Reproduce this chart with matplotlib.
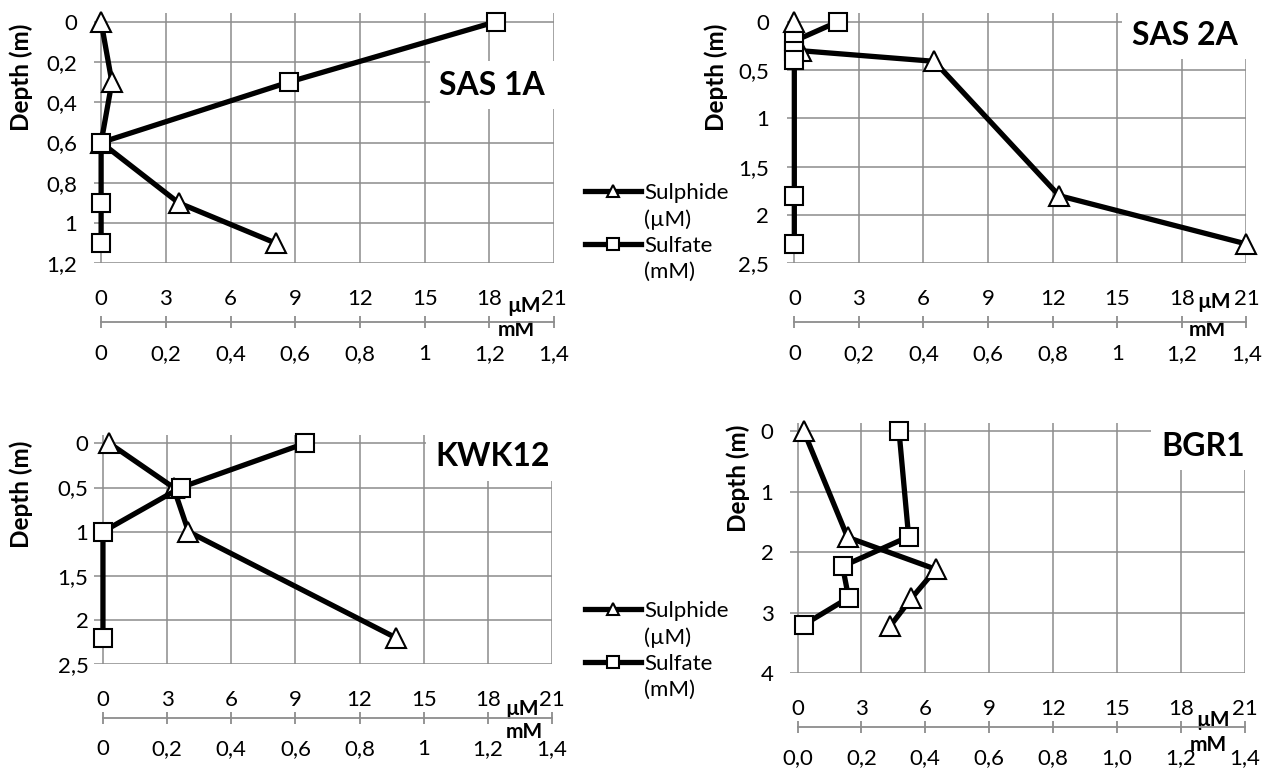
import matplotlib.pyplot as plt
from matplotlib.lines import Line2D

W, H = 1273, 775

plt.rcParams['font.family'] = ['Lato', 'DejaVu Sans']

# concentration axes: sulphide in µM (bottom), sulfate in mM (second axis)
um_ticks = [0, 3, 6, 9, 12, 15, 18, 21]
um_labels = ['0', '3', '6', '9', '12', '15', '18', '21']
mm_ticks = [0, 0.2, 0.4, 0.6, 0.8, 1.0, 1.2, 1.4]
mm_labels = ['0', '0,2', '0,4', '0,6', '0,8', '1', '1,2', '1,4']
mm_labels_bgr = ['0,0', '0,2', '0,4', '0,6', '0,8', '1,0', '1,2', '1,4']

# SAS 1A
sas1a_depth_ticks = [0, 0.2, 0.4, 0.6, 0.8, 1.0, 1.2]
sas1a_depth_labels = ['0', '0,2', '0,4', '0,6', '0,8', '1', '1,2']
sas1a_sulphide_depth = [0.0, 0.3, 0.6, 0.9, 1.1]
sas1a_sulphide = [0.0, 0.5, 0.0, 3.6, 8.1]
sas1a_sulfate_depth = [0.0, 0.3, 0.6, 0.9, 1.1]
sas1a_sulfate = [1.22, 0.58, 0.0, 0.0, 0.0]

# SAS 2A
sas2a_depth_ticks = [0, 0.5, 1.0, 1.5, 2.0, 2.5]
sas2a_depth_labels = ['0', '0,5', '1', '1,5', '2', '2,5']
sas2a_sulphide_depth = [0.0, 0.3, 0.41, 1.8, 2.3]
sas2a_sulphide = [0.0, 0.3, 6.5, 12.3, 21.0]
sas2a_sulfate_depth = [0.0, 0.2, 0.3, 0.4, 1.8, 2.3]
sas2a_sulfate = [0.135, 0.0, 0.0, 0.0, 0.0, 0.0]

# KWK12
kwk12_depth_ticks = [0, 0.5, 1.0, 1.5, 2.0, 2.5]
kwk12_depth_labels = ['0', '0,5', '1', '1,5', '2', '2,5']
kwk12_sulphide_depth = [0.0, 0.5, 1.0, 2.2]
kwk12_sulphide = [0.3, 3.3, 4.0, 13.7]
kwk12_sulfate_depth = [0.0, 0.5, 1.0, 2.2]
kwk12_sulfate = [0.63, 0.243, 0.0, 0.0]

# BGR1
bgr1_depth_ticks = [0, 1, 2, 3, 4]
bgr1_depth_labels = ['0', '1', '2', '3', '4']
bgr1_sulphide_depth = [0.0, 1.75, 2.28, 2.76, 3.22]
bgr1_sulphide = [0.3, 2.35, 6.5, 5.35, 4.35]
bgr1_sulfate_depth = [0.0, 1.74, 2.23, 2.75, 3.2]
bgr1_sulfate = [0.318, 0.348, 0.141, 0.16, 0.019]

GRID = '#8c8c8c'
FS = 16
LW = 3.8
PT = 0.72  # points per pixel at 100 dpi

fig = plt.figure(figsize=(W / 100, H / 100), dpi=100)


def px_rect(left, top, right, bottom):
    return [left / W, 1 - bottom / H, (right - left) / W, (bottom - top) / H]


def draw_panel(p):
    ax = fig.add_axes(px_rect(*p['box']))
    ax.set_xlim(p['xmin'], 21)
    ax.set_ylim(p['dmax'], p['dmin'])
    ax.set_xticks(um_ticks)
    ax.set_xticklabels(um_labels)
    ax.set_yticks(p['dticks'])
    ax.set_yticklabels(p['dlabels'])
    ax.grid(True, color=GRID, lw=1.1)
    ax.set_axisbelow(True)
    for s in ax.spines.values():
        s.set_visible(False)
    ax.tick_params(axis='x', length=0, pad=26 * PT, labelsize=FS)
    ax.tick_params(axis='y', length=0, pad=p['ypad'] * PT, labelsize=FS)

    h_sul, = ax.plot(p['sul'], p['sul_d'], color='black', lw=LW, marker='^',
                     ms=14, mfc='white', mec='black', mew=1.5, clip_on=False)

    ax2 = ax.twiny()
    ax2.set_xlim(p['xmin'] / 15, 21 / 15)
    h_sf, = ax2.plot(p['sf'], p['sf_d'], color='black', lw=LW, marker='s',
                     ms=13.5, mfc='white', mec='black', mew=1.5, clip_on=False)
    ax2.xaxis.set_ticks_position('bottom')
    for side in ('top', 'left', 'right'):
        ax2.spines[side].set_visible(False)
    ax2.spines['bottom'].set_position(('outward', p['drop'] * PT))
    ax2.spines['bottom'].set_bounds(0, 1.4)
    ax2.spines['bottom'].set_color(GRID)
    ax2.spines['bottom'].set_linewidth(1.3)
    ax2.set_xticks(mm_ticks)
    ax2.set_xticklabels(p['mmlabels'])
    ax2.tick_params(axis='x', direction='inout', length=9, width=1.3,
                    color=GRID, pad=11, labelsize=FS)

    ax.annotate('µM', xy=(p['um_lab'][0], 0), xycoords=('data', 'axes fraction'),
                xytext=(0, -p['um_lab'][1] * PT), textcoords='offset points',
                ha='center', va='center', fontsize=15, fontweight='bold')
    ax.annotate('mM', xy=(p['mm_lab'][0], 0), xycoords=('data', 'axes fraction'),
                xytext=(0, -p['mm_lab'][1] * PT), textcoords='offset points',
                ha='center', va='center', fontsize=15, fontweight='bold')

    ax.annotate(p['name'], xy=(1, 1), xycoords='axes fraction',
                xytext=(p['title_off'][0] * PT, -p['title_off'][1] * PT),
                textcoords='offset points', ha='right', va='center',
                fontsize=23, fontweight='bold', zorder=5,
                bbox=dict(boxstyle='square,pad=0.3', fc='white', ec='none'))

    fig.text(p['ylab'][0] / W, 1 - p['ylab'][1] / H, 'Depth (m)', rotation=90,
             ha='center', va='center', fontsize=17.5, fontweight='bold')
    return h_sul, h_sf


panels = [
    dict(name='SAS 1A', box=(94, 13.3, 554, 263.3), xmin=-0.33, dmin=-0.042, dmax=1.2,
         dticks=sas1a_depth_ticks, dlabels=sas1a_depth_labels,
         sul=sas1a_sulphide, sul_d=sas1a_sulphide_depth,
         sf=sas1a_sulfate, sf_d=sas1a_sulfate_depth, mmlabels=mm_labels,
         ypad=17, drop=59, um_lab=(19.6, 43), mm_lab=(19.25, 67),
         title_off=(-9, 72), ylab=(21, 77)),
    dict(name='SAS 2A', box=(787, 13.3, 1246.4, 263.3), xmin=-0.34, dmin=-0.087, dmax=2.5,
         dticks=sas2a_depth_ticks, dlabels=sas2a_depth_labels,
         sul=sas2a_sulphide, sul_d=sas2a_sulphide_depth,
         sf=sas2a_sulfate, sf_d=sas2a_sulfate_depth, mmlabels=mm_labels,
         ypad=18, drop=59, um_lab=(19.5, 39), mm_lab=(19.2, 67),
         title_off=(-9, 22), ylab=(716, 77)),
    dict(name='KWK12', box=(94.4, 435, 552, 664.3), xmin=-0.40, dmin=-0.094, dmax=2.5,
         dticks=kwk12_depth_ticks, dlabels=kwk12_depth_labels,
         sul=kwk12_sulphide, sul_d=kwk12_sulphide_depth,
         sf=kwk12_sulfate, sf_d=kwk12_sulfate_depth, mmlabels=mm_labels,
         ypad=6, drop=53.5, um_lab=(19.6, 45), mm_lab=(19.7, 68),
         title_off=(-2, 22), ylab=(21, 494)),
    dict(name='BGR1', box=(790.5, 423, 1244.5, 673.3), xmin=-0.33, dmin=-0.14, dmax=4,
         dticks=bgr1_depth_ticks, dlabels=bgr1_depth_labels,
         sul=bgr1_sulphide, sul_d=bgr1_sulphide_depth,
         sf=bgr1_sulfate, sf_d=bgr1_sulfate_depth, mmlabels=mm_labels_bgr,
         ypad=17, drop=53.5, um_lab=(19.5, 47), mm_lab=(19.3, 72),
         title_off=(0, 23), ylab=(738, 478)),
]

handles = [draw_panel(p) for p in panels]

# legends to the right of the left-hand panels
blank = Line2D([], [], linestyle='none')
for (h_sul, h_sf), top in ((handles[0], 183), (handles[2], 601)):
    fig.legend([h_sul, blank, h_sf, blank], ['Sulphide', '(µM)', 'Sulfate', '(mM)'],
               loc='upper left', bbox_to_anchor=(585 / W, 1 - top / H),
               frameon=False, fontsize=16, handlelength=2.5, handletextpad=0.15,
               labelspacing=0.27, borderpad=0, borderaxespad=0, markerscale=0.6)

fig.savefig('out.png', dpi=100)
